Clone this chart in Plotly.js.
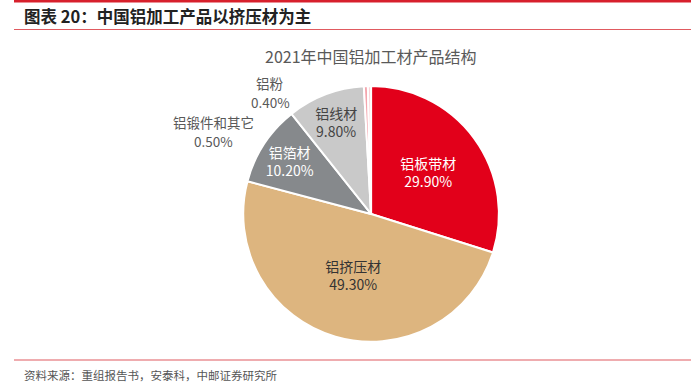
<!DOCTYPE html>
<html><head><meta charset="utf-8">
<script src="https://cdn.plot.ly/plotly-3.0.1.min.js"></script>
<style>html,body{margin:0;padding:0;background:#fff}#c{width:691px;height:389px}</style>
</head><body><div id="c"></div>
<script>
const categories = ['铝板带材','铝挤压材','铝箔材','铝线材','铝锻件和其它','铝粉'];
const shares = [29.9, 49.3, 10.2, 9.8, 0.5, 0.4];
const sliceColors = ['#E2001A','#DDB57F','#86898C','#C9C9C9','#F4A5AD','#FAD3D7'];
const textColors = ['#ffffff','#333333','#ffffff','#444444','#444444','#444444'];
const pct = shares.map(v => v.toFixed(2) + '%');
const font = '"Noto Sans CJK SC", "Noto Sans", sans-serif';

const trace = {
  type: 'pie',
  labels: categories,
  values: shares,
  sort: false,
  direction: 'clockwise',
  rotation: 0,
  marker: {colors: sliceColors, line: {color: '#ffffff', width: 2}},
  text: categories.map((c,i) => i < 4 ? c + '<br>' + pct[i] : ''),
  textinfo: 'text',
  textposition: 'inside',
  insidetextorientation: 'horizontal',
  insidetextfont: {family: font, size: 14, color: textColors},
  hoverinfo: 'none',
  domain: {x: [0.352, 0.722], y: [0.121, 0.779]},
  showlegend: false
};

const ya = py => 1 - py/389;
const lbl = (t, px, py, size, color) => ({text: t, x: px/691, y: ya(py), xref: 'paper', yref: 'paper',
  xanchor: 'center', yanchor: 'middle', showarrow: false, font: {family: font, size: size, color: color}});
const annotations = [
  lbl('2021年中国铝加工材产品结构', 371, 56, 16, '#595959'),
  lbl(categories[5], 270, 83, 13.5, '#595959'),
  lbl(pct[5], 270, 102, 13.5, '#595959'),
  lbl(categories[4], 213, 122, 13.5, '#595959'),
  lbl(pct[4], 213, 141, 13.5, '#595959'),
  {text: '<b>图表 20：中国铝加工产品以挤压材为主</b>', x: 22/691, y: ya(16), xref: 'paper', yref: 'paper',
   xanchor: 'left', yanchor: 'middle', showarrow: false, font: {family: font, size: 16.5, color: '#222'}},
  {text: '资料来源：重组报告书，安泰科，中邮证券研究所', x: 22/691, y: ya(375), xref: 'paper', yref: 'paper',
   xanchor: 'left', yanchor: 'middle', showarrow: false, font: {family: font, size: 11.5, color: '#555'}}
];

const shapes = [
  {type: 'rect', xref: 'paper', yref: 'paper', x0: 14/691, x1: 1, y0: ya(2.5), y1: 1, fillcolor: '#D7202C', line: {width: 0}},
  {type: 'line', xref: 'paper', yref: 'paper', x0: 14/691, x1: 1, y0: ya(29.5), y1: ya(29.5), line: {color: '#E05A60', width: 1.2}},
  {type: 'line', xref: 'paper', yref: 'paper', x0: 14/691, x1: 1, y0: ya(360), y1: ya(360), line: {color: '#E05A60', width: 1.2}}
];

Plotly.newPlot('c', [trace], {
  width: 691, height: 389,
  margin: {l: 0, r: 0, t: 0, b: 0},
  paper_bgcolor: '#ffffff',
  annotations: annotations,
  shapes: shapes,
  font: {family: font}
}, {staticPlot: true});
</script></body></html>
